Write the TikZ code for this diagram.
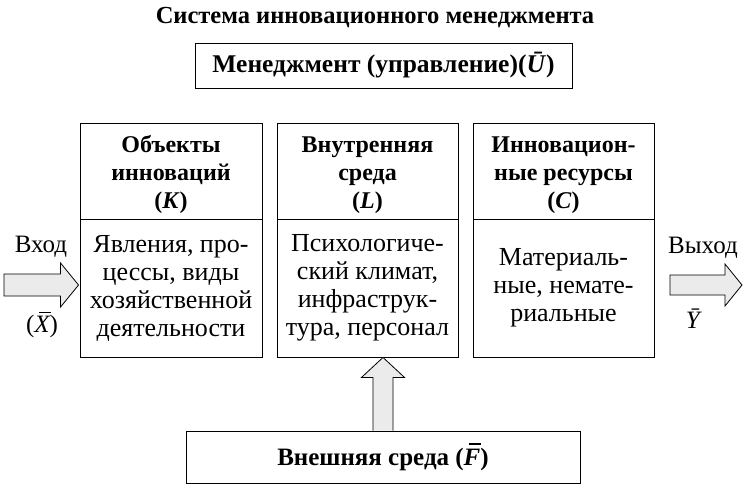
\documentclass[tikz,border=0pt]{standalone}
\usepackage{fontspec}
\setmainfont{Liberation Serif}
\usetikzlibrary{calc}
\newcommand{\ovl}[2]{\leavevmode\setbox0\hbox{\itshape #2}%
  \rlap{\hspace{0.2em}\rule[0.8em]{\dimexpr\wd0-0.16em\relax}{#1}}\box0}
\begin{document}
\begin{tikzpicture}[x=1pt,y=-1pt,
  box/.style={draw,line width=0.9pt,inner sep=0pt,align=center},
  headtxt/.style={font=\fontsize{24}{28}\selectfont\bfseries},
  bodytxt/.style={font=\fontsize{26}{28}\selectfont},
  lab/.style={font=\fontsize{25}{28}\selectfont},
  arr/.style={draw,line width=0.8pt,fill=gray!16,line join=miter}]
\useasboundingbox (0,0) rectangle (750,488);
\node (title) at (375,18) {\fontsize{24.5}{26}\selectfont\bfseries Система инновационного менеджмента};
\node[box,minimum width=377pt,minimum height=45pt] (mgmt) at (383.5,65.5)
  {\fontsize{25.5}{28}\selectfont\bfseries Менеджмент (управление)(\textit{Ū})};
% column boxes
\node[box,headtxt,minimum width=182pt,minimum height=96pt] (lhead) at (171,171)
  {\rule{0pt}{24pt}Объекты\\инноваций\\(\textit{K})};
\node[box,bodytxt,minimum width=182pt,minimum height=138pt] (lbody) at (171,288)
  {Явления, про-\\цессы, виды\\хозяйственной\\деятельности};
\node[box,headtxt,minimum width=181pt,minimum height=96pt] (mhead) at (367.5,171)
  {\rule{0pt}{24pt}Внутренняя\\среда\\(\textit{L})};
\node[box,bodytxt,minimum width=181pt,minimum height=138pt] (mbody) at (367.5,288)
  {Психологиче-\\ский климат,\\инфраструк-\\тура, персонал};
\node[box,headtxt,minimum width=181pt,minimum height=96pt] (rhead) at (563.5,171)
  {\rule{0pt}{24pt}Инновацион-\\ные ресурсы\\(\textit{C})};
\node[box,bodytxt,minimum width=181pt,minimum height=138pt] (rbody) at (563.5,288)
  {Материаль-\\ные, немате-\\риальные};
\node[box,minimum width=394pt,minimum height=52pt] (ext) at (383,457)
  {\fontsize{25}{28}\selectfont\bfseries Внешняя среда (\ovl{0.08em}{F})};
% labels
\node[lab] (inlab) at (41,247) {Вход};
\node[lab] (inx) at (42,325) {(\ovl{0.05em}{X})};
\node[lab] (outlab) at (703,248) {Выход};
\node[lab] (outy) at (694,319) {\textit{Ȳ}};
% input arrow
\coordinate (intip) at ($(lbody.west)+(-1,-3)$);
\draw[arr] (4,274) -- ($(intip)+(-18,-11)$) -- ($(intip)+(-18,-22)$) -- (intip)
  -- ($(intip)+(-18,22)$) -- ($(intip)+(-18,11)$) -- (4,296) -- cycle;
% output arrow
\coordinate (outtail) at (670,285);
\coordinate (outtip) at (742,285);
\draw[arr] ($(outtail)+(0,-10)$) -- ($(outtip)+(-17,-10)$) -- ($(outtip)+(-17,-21)$)
  -- (outtip) -- ($(outtip)+(-17,21)$) -- ($(outtip)+(-17,10)$) -- ($(outtail)+(0,10)$) -- cycle;
% up arrow
\coordinate (uptip) at (ext.north |- mbody.south);
\draw[arr] ($(ext.north)+(-10,0)$) -- ($(uptip)+(-10,20)$) -- ($(uptip)+(-21.5,20)$)
  -- (uptip) -- ($(uptip)+(21.5,20)$) -- ($(uptip)+(10,20)$) -- ($(ext.north)+(10,0)$);
\end{tikzpicture}
\end{document}
